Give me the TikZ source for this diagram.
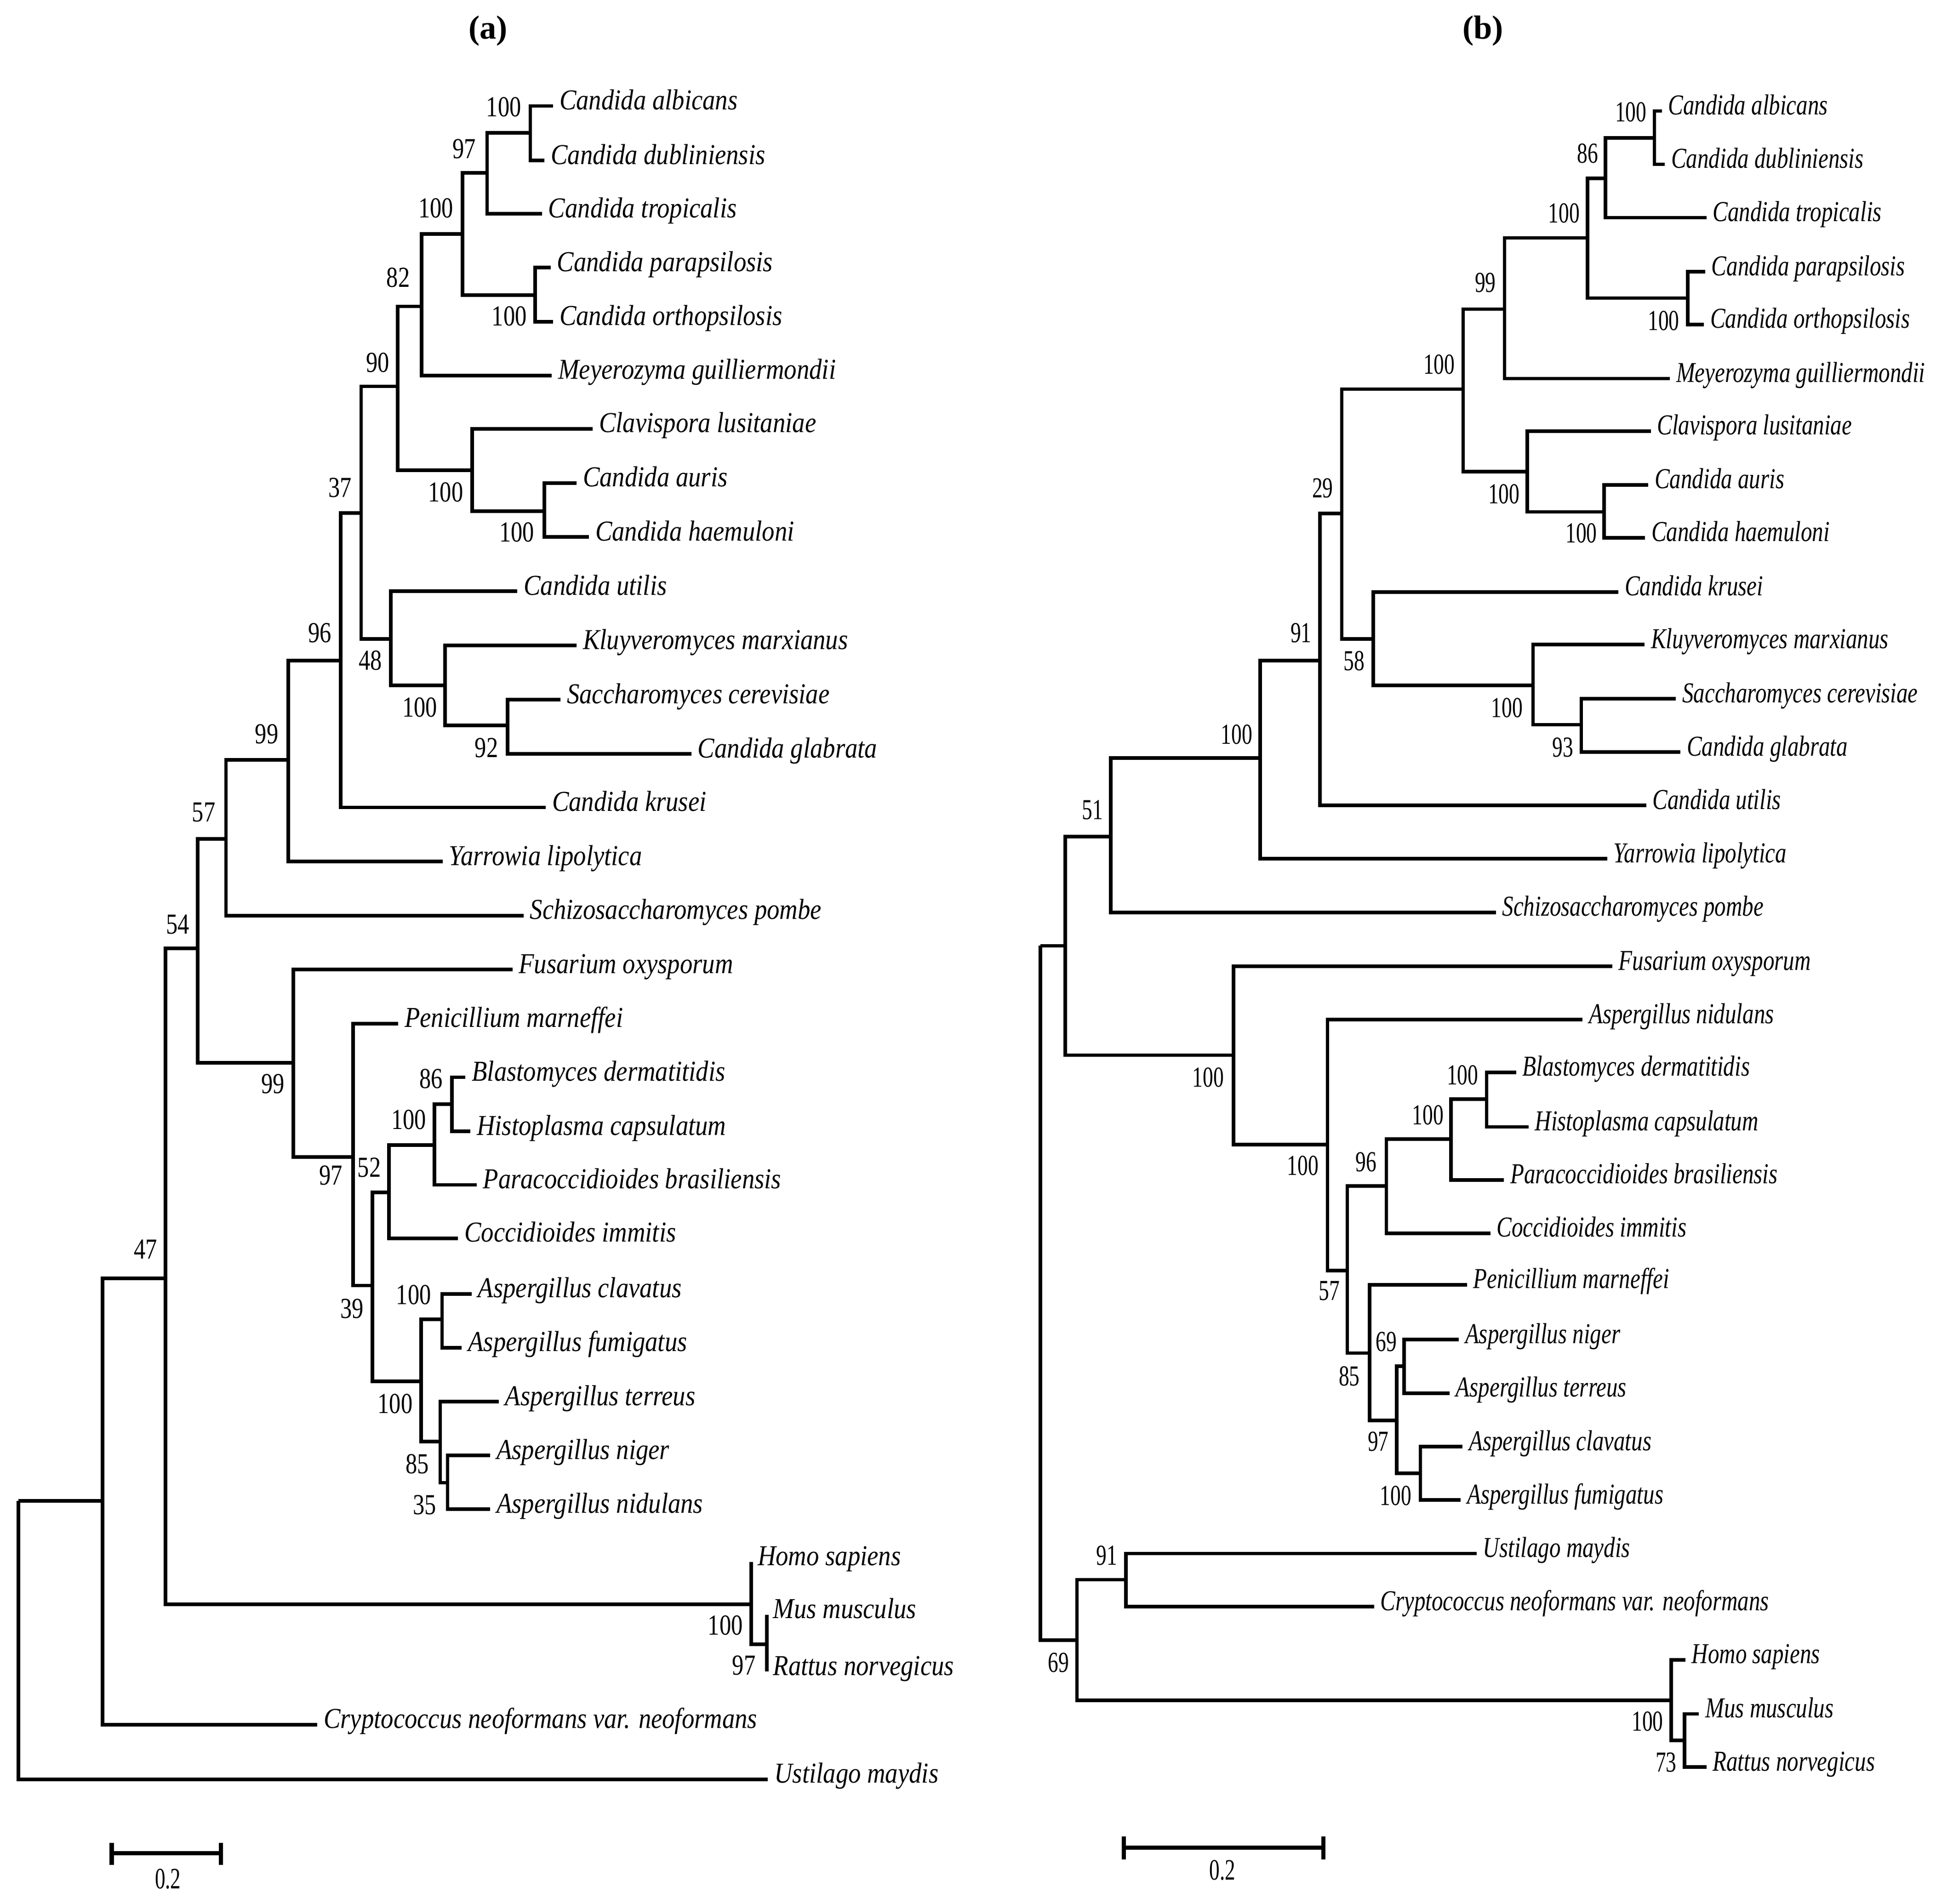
\documentclass[tikz,border=0pt]{standalone}
\usepackage{fontspec}
\setmainfont{Liberation Serif}
\usepackage{graphicx}
\newcommand\txa[1]{\scalebox{0.87}[1]{\fontsize{23.4}{26}\selectfont\itshape #1}}
\newcommand\txb[1]{\scalebox{0.78}[1]{\fontsize{23.4}{26}\selectfont\itshape #1}}
\newcommand\nma[1]{\scalebox{0.80}[1]{\fontsize{23.5}{26}\selectfont #1}}
\newcommand\nmb[1]{\scalebox{0.72}[1]{\fontsize{23.5}{26}\selectfont #1}}
\newcommand\leafA[4]{\coordinate (#1) at (#2,#3); \node[leaftxt] (#1t) at ([xshift=5pt,yshift=-3pt]#1) {\txa{#4}};}
\newcommand\leafB[4]{\coordinate (#1) at (#2,#3); \node[leaftxt] (#1t) at ([xshift=5pt,yshift=-3pt]#1) {\txb{#4}};}
\begin{document}
\begin{tikzpicture}[x=1pt,y=-1pt,
  br/.style={line width=2.9pt},
  sbar/.style={line width=3.4pt},
  leaftxt/.style={inner sep=0pt, anchor=base west},
  boot/.style={inner sep=0pt, anchor=center},
  ttl/.style={inner sep=0pt, font=\fontsize{27}{30}\selectfont\bfseries}]
\useasboundingbox (0,0) rectangle (1568,1542);
\node[ttl] (titleA) at (395.3,24.8) {(a)};
\node[ttl] (titleB) at (1201,24.8) {(b)};

% ---------------- tree (a) ----------------
\coordinate (aroot) at (15,1215.7);
\coordinate (a83) at (83,1215.7);
\coordinate (a47) at (134,1035.5);
\coordinate (a54) at (160,768.3);
\coordinate (a57) at (183,679.5);
\coordinate (a99) at (233.5,615.5);
\coordinate (a96) at (276,535);
\coordinate (a37) at (292.5,415.6);
\coordinate (a90) at (322,313);
\coordinate (a82) at (341.5,248.2);
\coordinate (a100c) at (374.5,189.6);
\coordinate (a97) at (394.5,139.9);
\coordinate (a100a) at (429.5,107.5);
\coordinate (a100p) at (433.5,239);
\coordinate (a100h) at (382.5,381);
\coordinate (a100ah) at (441,414);
\coordinate (a48) at (316.5,517.5);
\coordinate (a100k) at (360.5,555.3);
\coordinate (a92) at (411,587.7);
\coordinate (a99b) at (237.5,860.9);
\coordinate (a97b) at (286,937.2);
\coordinate (a39) at (301.5,1041.3);
\coordinate (a52) at (315,965.9);
\coordinate (a100bh) at (352,927.6);
\coordinate (a86) at (366,894.3);
\coordinate (a100as) at (341,1118.9);
\coordinate (a100cf) at (358,1068.6);
\coordinate (a85) at (356.5,1167.8);
\coordinate (a35) at (362.5,1201);
\coordinate (am100) at (608.5,1299.4);
\coordinate (am97) at (621,1331.9);

\leafA{albA}{448}{85.8}{Candida albicans}
\leafA{dubA}{441}{130}{Candida dubliniensis}
\leafA{tropA}{439}{173.2}{Candida tropicalis}
\leafA{paraA}{446}{216.8}{Candida parapsilosis}
\leafA{orthoA}{448}{260.6}{Candida orthopsilosis}
\leafA{meyA}{447}{304.1}{Meyerozyma guilliermondii}
\leafA{clavA}{480}{347.3}{Clavispora lusitaniae}
\leafA{aurisA}{467}{391.2}{Candida auris}
\leafA{haemA}{477}{435}{Candida haemuloni}
\leafA{utilisA}{419}{478.9}{Candida utilis}
\leafA{kluyA}{467}{522.8}{Kluyveromyces marxianus}
\leafA{saccA}{454}{566.7}{Saccharomyces cerevisiae}
\leafA{glabA}{560}{610.8}{Candida glabrata}
\leafA{kruseiA}{442}{654}{Candida krusei}
\leafA{yarrowA}{358.5}{697.9}{Yarrowia lipolytica}
\leafA{schizoA}{424}{741.7}{Schizosaccharomyces pombe}
\leafA{fusA}{415}{785.3}{Fusarium oxysporum}
\leafA{penA}{322.5}{829.1}{Penicillium marneffei}
\leafA{blastA}{377}{872.6}{Blastomyces dermatitidis}
\leafA{histoA}{381}{916.5}{Histoplasma capsulatum}
\leafA{paracA}{386}{959.7}{Paracoccidioides brasiliensis}
\leafA{coccA}{371}{1003}{Coccidioides immitis}
\leafA{clavatA}{382}{1048.1}{Aspergillus clavatus}
\leafA{fumA}{374}{1091.6}{Aspergillus fumigatus}
\leafA{terrA}{404}{1135.3}{Aspergillus terreus}
\leafA{nigerA}{397}{1179}{Aspergillus niger}
\leafA{nidA}{397}{1222.5}{Aspergillus nidulans}
\leafA{homoA}{608.5}{1265.2}{Homo sapiens}
\leafA{musA}{621}{1308}{Mus musculus}
\leafA{ratA}{621}{1354}{Rattus norvegicus}
\leafA{cryptoA}{257}{1397}{Cryptococcus neoformans var. neoformans}
\leafA{ustA}{622}{1441.3}{Ustilago maydis}

\foreach \p/\c in {aroot/a83, aroot/ustA, a83/a47, a83/cryptoA, a47/a54, a47/am100,
  a54/a57, a54/a99b, a57/a99, a57/schizoA, a99/a96, a99/yarrowA, a96/a37, a96/kruseiA,
  a37/a90, a37/a48, a90/a82, a90/a100h, a82/a100c, a82/meyA, a100c/a97, a100c/a100p,
  a97/a100a, a97/tropA, a100a/albA, a100a/dubA, a100p/paraA, a100p/orthoA,
  a100h/clavA, a100h/a100ah, a100ah/aurisA, a100ah/haemA, a48/utilisA, a48/a100k,
  a100k/kluyA, a100k/a92, a92/saccA, a92/glabA, a99b/fusA, a99b/a97b, a97b/penA, a97b/a39,
  a39/a52, a39/a100as, a52/a100bh, a52/coccA, a100bh/a86, a100bh/paracA, a86/blastA, a86/histoA,
  a100as/a100cf, a100as/a85, a100cf/clavatA, a100cf/fumA, a85/terrA, a85/a35, a35/nigerA, a35/nidA,
  am100/homoA, am100/am97, am97/musA, am97/ratA}
  \draw[br] (\p) |- (\c);

\node[boot] (la1) at (408,86.8) {\nma{100}};
\node[boot] (la2) at (376,120.7) {\nma{97}};
\node[boot] (la3) at (353,168.6) {\nma{100}};
\node[boot] (la4) at (322.5,225) {\nma{82}};
\node[boot] (la5) at (412.5,256) {\nma{100}};
\node[boot] (la6) at (306,293.6) {\nma{90}};
\node[boot] (la7) at (275.5,394.9) {\nma{37}};
\node[boot] (la8) at (361,398.6) {\nma{100}};
\node[boot] (la9) at (418.5,431) {\nma{100}};
\node[boot] (la10) at (259,512.8) {\nma{96}};
\node[boot] (la11) at (300,535) {\nma{48}};
\node[boot] (la12) at (340,573) {\nma{100}};
\node[boot] (la13) at (394,605.6) {\nma{92}};
\node[boot] (la14) at (216,594.8) {\nma{99}};
\node[boot] (la15) at (165,658) {\nma{57}};
\node[boot] (la16) at (144,749) {\nma{54}};
\node[boot] (la17) at (221,878) {\nma{99}};
\node[boot] (la18) at (349,874) {\nma{86}};
\node[boot] (la19) at (331,907) {\nma{100}};
\node[boot] (la20) at (268,952) {\nma{97}};
\node[boot] (la21) at (299,945.8) {\nma{52}};
\node[boot] (la22) at (118,1012) {\nma{47}};
\node[boot] (la23) at (285,1060) {\nma{39}};
\node[boot] (la24) at (335,1049) {\nma{100}};
\node[boot] (la25) at (320,1137) {\nma{100}};
\node[boot] (la26) at (338,1186) {\nma{85}};
\node[boot] (la27) at (344,1219) {\nma{35}};
\node[boot] (la28) at (587.5,1316.5) {\nma{100}};
\node[boot] (la29) at (602.5,1349) {\nma{97}};

% scale bar (a)
\coordinate (sa1) at (90.5,1501);
\coordinate (sa2) at (179,1501);
\draw[sbar] (sa1) -- (sa2);
\draw[sbar] ([yshift=8.4pt]sa1) -- ([yshift=-9.7pt]sa1);
\draw[sbar] ([yshift=8.4pt]sa2) -- ([yshift=-9.7pt]sa2);
\node[boot] (sal) at (136,1522) {\scalebox{0.7}[1]{\fontsize{24}{26}\selectfont 0.2}};

% ---------------- tree (b) ----------------
\coordinate (broot) at (842.6,766.1);
\coordinate (b862) at (862.7,766.1);
\coordinate (b51) at (899.7,677.8);
\coordinate (b100y) at (1020.5,613.9);
\coordinate (b91) at (1069,535.2);
\coordinate (b29) at (1086.7,415.9);
\coordinate (b100a) at (1185,315.2);
\coordinate (b99) at (1218.5,250.4);
\coordinate (b100t) at (1285.7,192.7);
\coordinate (b86) at (1300.3,144.5);
\coordinate (b100ab) at (1339.9,111.8);
\coordinate (b100p) at (1367,241.5);
\coordinate (b100cl) at (1237,381.9);
\coordinate (b100ah) at (1299.2,414.6);
\coordinate (b58) at (1112.3,517.5);
\coordinate (b100k) at (1241.6,555.3);
\coordinate (b93) at (1280.7,587);
\coordinate (b100f) at (999,854.7);
\coordinate (b100n) at (1075.2,927.3);
\coordinate (b57) at (1091.2,1029.3);
\coordinate (b96) at (1122.8,960.6);
\coordinate (b100bhp) at (1175,922.7);
\coordinate (b100bh) at (1204,890.2);
\coordinate (b85) at (1109.3,1096);
\coordinate (b97) at (1131.3,1150.7);
\coordinate (b69n) at (1137.3,1106.6);
\coordinate (b100cf) at (1150.4,1193.4);
\coordinate (b69) at (872.2,1328.5);
\coordinate (b91u) at (911.8,1279.6);
\coordinate (bm100) at (1353.4,1377.4);
\coordinate (bm73) at (1364.4,1409.8);

\leafB{albB}{1345.9}{89.9}{Candida albicans}
\leafB{dubB}{1348.4}{133.1}{Candida dubliniensis}
\leafB{tropB}{1382}{176.3}{Candida tropicalis}
\leafB{paraB}{1381}{220.1}{Candida parapsilosis}
\leafB{orthoB}{1380}{262.8}{Candida orthopsilosis}
\leafB{meyB}{1352.4}{306.6}{Meyerozyma guilliermondii}
\leafB{clavB}{1337}{349.2}{Clavispora lusitaniae}
\leafB{aurisB}{1335}{392.7}{Candida auris}
\leafB{haemB}{1332.3}{435.6}{Candida haemuloni}
\leafB{kruseiB}{1310.8}{479.5}{Candida krusei}
\leafB{kluyB}{1332}{522.1}{Kluyveromyces marxianus}
\leafB{saccB}{1357.4}{566.1}{Saccharomyces cerevisiae}
\leafB{glabB}{1361}{609.3}{Candida glabrata}
\leafB{utilisB}{1333.3}{652.5}{Candida utilis}
\leafB{yarrowB}{1301.7}{695.7}{Yarrowia lipolytica}
\leafB{schizoB}{1211.5}{739}{Schizosaccharomyces pombe}
\leafB{fusB}{1305.8}{782.8}{Fusarium oxysporum}
\leafB{nidB}{1281.7}{826}{Aspergillus nidulans}
\leafB{blastB}{1228}{868.6}{Blastomyces dermatitidis}
\leafB{histoB}{1238}{912.8}{Histoplasma capsulatum}
\leafB{paracB}{1218}{955.7}{Paracoccidioides brasiliensis}
\leafB{coccB}{1207}{998.9}{Coccidioides immitis}
\leafB{penB}{1188}{1040.6}{Penicillium marneffei}
\leafB{nigerB}{1181.5}{1085.1}{Aspergillus niger}
\leafB{terrB}{1174}{1128.5}{Aspergillus terreus}
\leafB{clavatB}{1184.5}{1171.9}{Aspergillus clavatus}
\leafB{fumB}{1183}{1215}{Aspergillus fumigatus}
\leafB{ustB}{1196}{1258.4}{Ustilago maydis}
\leafB{cryptoB}{1112.8}{1301.5}{Cryptococcus neoformans var. neoformans}
\leafB{homoB}{1365}{1344.5}{Homo sapiens}
\leafB{musB}{1376}{1388.3}{Mus musculus}
\leafB{ratB}{1382}{1431.4}{Rattus norvegicus}

\foreach \p/\c in {broot/b862, broot/b69, b862/b51, b862/b100f, b51/b100y, b51/schizoB,
  b100y/b91, b100y/yarrowB, b91/b29, b91/utilisB, b29/b100a, b29/b58, b100a/b99, b100a/b100cl,
  b99/b100t, b99/meyB, b100t/b86, b100t/b100p, b86/b100ab, b86/tropB, b100ab/albB, b100ab/dubB,
  b100p/paraB, b100p/orthoB, b100cl/clavB, b100cl/b100ah, b100ah/aurisB, b100ah/haemB,
  b58/kruseiB, b58/b100k, b100k/kluyB, b100k/b93, b93/saccB, b93/glabB,
  b100f/fusB, b100f/b100n, b100n/nidB, b100n/b57, b57/b96, b57/b85, b96/b100bhp, b96/coccB,
  b100bhp/b100bh, b100bhp/paracB, b100bh/blastB, b100bh/histoB, b85/penB, b85/b97,
  b97/b69n, b97/b100cf, b69n/nigerB, b69n/terrB, b100cf/clavatB, b100cf/fumB,
  b69/b91u, b69/bm100, b91u/ustB, b91u/cryptoB, bm100/homoB, bm100/bm73, bm73/musB, bm73/ratB}
  \draw[br] (\p) |- (\c);

\node[boot] (lb1) at (1320.8,90.8) {\nmb{100}};
\node[boot] (lb2) at (1285.8,124.4) {\nmb{86}};
\node[boot] (lb3) at (1266.7,172.6) {\nmb{100}};
\node[boot] (lb4) at (1203,228.8) {\nmb{99}};
\node[boot] (lb5) at (1347.4,259.7) {\nmb{100}};
\node[boot] (lb6) at (1165.5,295.2) {\nmb{100}};
\node[boot] (lb7) at (1218,400.1) {\nmb{100}};
\node[boot] (lb8) at (1280.7,432) {\nmb{100}};
\node[boot] (lb9) at (1071.2,395.5) {\nmb{29}};
\node[boot] (lb10) at (1053.7,512.8) {\nmb{91}};
\node[boot] (lb11) at (1096.8,535.2) {\nmb{58}};
\node[boot] (lb12) at (1220.6,573.2) {\nmb{100}};
\node[boot] (lb13) at (1265.7,605.3) {\nmb{93}};
\node[boot] (lb14) at (1001.5,594.8) {\nmb{100}};
\node[boot] (lb15) at (884.8,656.2) {\nmb{51}};
\node[boot] (lb16) at (978.5,872.6) {\nmb{100}};
\node[boot] (lb17) at (1055.2,944.3) {\nmb{100}};
\node[boot] (lb18) at (1106.3,941.2) {\nmb{96}};
\node[boot] (lb19) at (1184.5,871) {\nmb{100}};
\node[boot] (lb20) at (1156.4,903.2) {\nmb{100}};
\node[boot] (lb21) at (1076.7,1045.7) {\nmb{57}};
\node[boot] (lb22) at (1092.8,1114.8) {\nmb{85}};
\node[boot] (lb23) at (1122.8,1086.8) {\nmb{69}};
\node[boot] (lb24) at (1116.3,1167.8) {\nmb{97}};
\node[boot] (lb25) at (1130.4,1211.6) {\nmb{100}};
\node[boot] (lb26) at (896.3,1260.1) {\nmb{91}};
\node[boot] (lb27) at (857.2,1346.6) {\nmb{69}};
\node[boot] (lb28) at (1334.3,1394.5) {\nmb{100}};
\node[boot] (lb29) at (1349.4,1427.6) {\nmb{73}};

% scale bar (b)
\coordinate (sb1) at (910.3,1496.7);
\coordinate (sb2) at (1071.7,1496.7);
\draw[sbar] (sb1) -- (sb2);
\draw[sbar] ([yshift=9.3pt]sb1) -- ([yshift=-9.5pt]sb1);
\draw[sbar] ([yshift=9.3pt]sb2) -- ([yshift=-9.5pt]sb2);
\node[boot] (sbl) at (990,1515) {\scalebox{0.7}[1]{\fontsize{24}{26}\selectfont 0.2}};
\end{tikzpicture}
\end{document}
